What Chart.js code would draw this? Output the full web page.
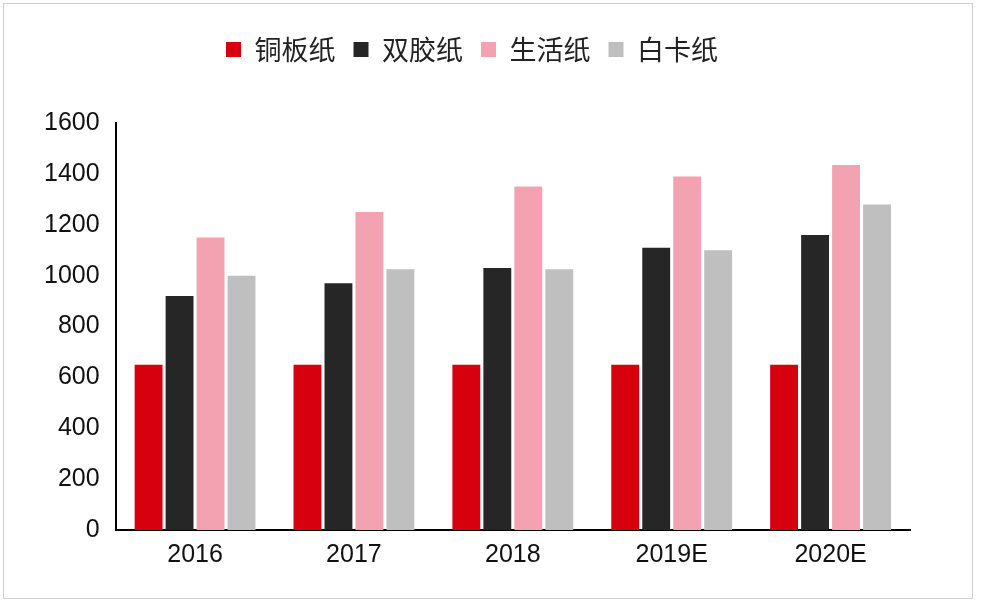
<!DOCTYPE html>
<html><head><meta charset="utf-8">
<script src="https://cdn.jsdelivr.net/npm/chart.js@4"></script>
<style>
html,body{margin:0;padding:0;background:#fff;}
#wrap{position:absolute;left:3px;top:3px;width:970px;height:596px;border:1px solid #d0d0d0;box-sizing:border-box;}
</style></head>
<body>
<div id="wrap"><canvas id="c"></canvas></div>
<script>
const years = ['2016', '2017', '2018', '2019E', '2020E'];
const seriesNames = ['铜板纸', '双胶纸', '生活纸', '白卡纸'];
const coated = [650, 650, 650, 650, 650];
const offset = [920, 970, 1030, 1110, 1160];
const tissue = [1150, 1250, 1350, 1390, 1435];
const whiteCard = [1000, 1025, 1025, 1100, 1280];
const colors = ['#d7000f', '#262626', '#f2a2b0', '#bfbfbf'];

const font = '"Noto Sans CJK SC", "Liberation Sans", sans-serif';
const numFont = '"Liberation Sans", sans-serif';
new Chart(document.getElementById('c'), {
  type: 'bar',
  data: {
    labels: years,
    datasets: [coated, offset, tissue, whiteCard].map((d, i) => ({
      label: seriesNames[i], data: d, backgroundColor: colors[i],
      barPercentage: 0.9, categoryPercentage: 0.78
    }))
  },
  options: {
    responsive: true, maintainAspectRatio: false, animation: false,
    layout: { padding: { left: 30, right: 62, top: 14, bottom: 18 } },
    plugins: {
      legend: {
        labels: { font: { family: font, size: 27 }, color: '#222', boxWidth: 15, boxHeight: 15, padding: 18 }
      },
      tooltip: { enabled: false }
    },
    scales: {
      x: {
        grid: { display: false, drawTicks: false },
        border: { color: '#000', width: 2 },
        ticks: { font: { family: numFont, size: 25 }, color: '#111', padding: 10 }
      },
      y: {
        min: 0, max: 1600,
        afterFit: s => { s.chart.legend && (s.chart.legend.height = s.chart.legend.height); },
        ticks: { stepSize: 200, font: { family: numFont, size: 25 }, color: '#111', padding: 10,
          callback: v => String(v) },
        grid: { display: false, drawTicks: true, tickLength: 6, tickColor: '#000' },
        border: { color: '#000', width: 2 }
      }
    }
  },
  plugins: [{
    id: 'legendGap',
    beforeInit(chart) {
      const fit = chart.legend.fit;
      chart.legend.fit = function () { fit.bind(chart.legend)(); this.height += 50; };
    }
  }]
});
</script>
</body></html>
